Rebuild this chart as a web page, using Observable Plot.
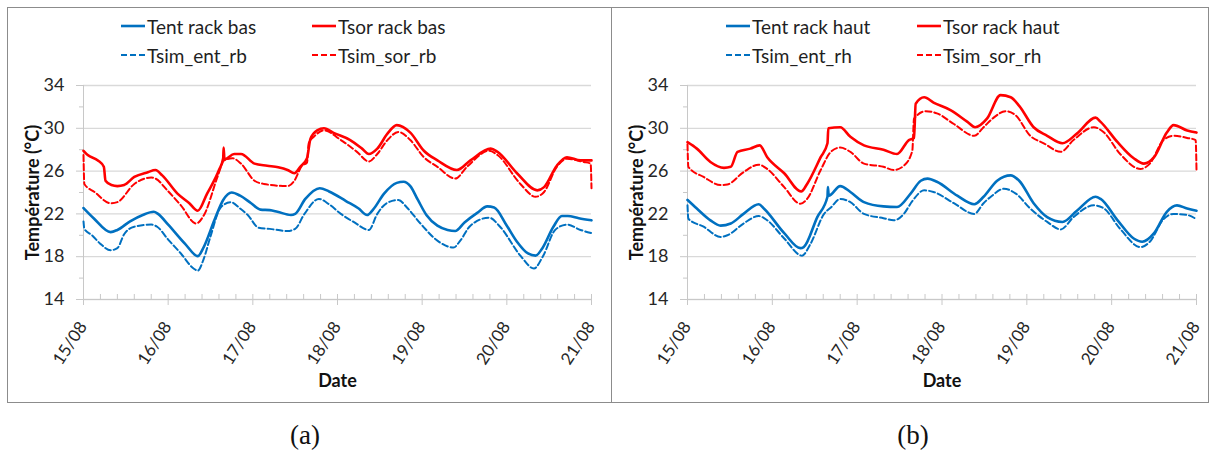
<!DOCTYPE html>
<html>
<head>
<meta charset="utf-8">
<script src="https://cdn.jsdelivr.net/npm/d3@7"></script>
<script src="https://cdn.jsdelivr.net/npm/@observablehq/plot@0.6"></script>
<style>
  html, body { margin: 0; padding: 0; background: #fff; }
  body { position: relative; width: 1212px; height: 450px; overflow: hidden; font-family: Lato, "Liberation Sans", sans-serif; }
  .panel { position: absolute; border: 1px solid #8c8c8c; box-sizing: border-box; }
  .plot { position: absolute; }
  .leg { position: absolute; display: flex; align-items: center; font-size: 19px; color: #1f1f1f; white-space: nowrap; }
  .leg svg { display: block; margin-right: 2px; }
  .cap { position: absolute; width: 100px; text-align: center; font-family: "Liberation Serif", serif; font-size: 27px; line-height: 30px; color: #111; }
</style>
</head>
<body>
<div class="panel" style="left:7px;top:7px;width:605px;height:396px"></div>
<div class="panel" style="left:611px;top:7px;width:598px;height:396px"></div>
<script>
// ---------- shared axis data ----------
const dayTicks = [0, 1, 2, 3, 4, 5, 6];
const dayLabels = ["15/08", "16/08", "17/08", "18/08", "19/08", "20/08", "21/08"];
const minorDayTicks = [0.2,0.4,0.6,0.8,1.2,1.4,1.6,1.8,2.2,2.4,2.6,2.8,3.2,3.4,3.6,3.8,4.2,4.4,4.6,4.8,5.2,5.4,5.6,5.8];
const yTicks = [14, 18, 22, 26, 30, 34];
const yMinorTicks = [16, 20, 24, 28, 32];

// ---------- panel (a): rack bas ----------
const legendA = ["Tent rack bas", "Tsor rack bas", "Tsim_ent_rb", "Tsim_sor_rb"];

const tentRbDays = [0,0.12,0.32,0.4,0.55,0.7,0.83,0.88,1.0,1.2,1.35,1.42,1.55,1.65,1.75,1.85,1.98,2.09,2.2,2.29,2.45,2.5,2.62,2.79,2.9,3.1,3.25,3.35,3.42,3.55,3.7,3.78,3.86,3.95,4.05,4.18,4.3,4.39,4.5,4.65,4.77,4.85,5.0,5.12,5.25,5.34,5.42,5.55,5.65,5.72,5.85,6.0];
const tentRbVals = [22.55,21.6,20.3,20.5,21.3,21.9,22.2,22.0,21.0,19.2,18.05,18.9,21.5,23.3,24.0,23.7,23.0,22.4,22.35,22.2,21.9,22.0,23.4,24.4,24.1,23.2,22.5,21.9,22.4,23.9,24.9,25.0,24.6,23.3,21.9,20.9,20.5,20.4,21.2,22.1,22.7,22.6,20.9,19.4,18.3,18.1,18.8,20.8,21.8,21.8,21.6,21.4];

const tsorRbDays = [0,0.05,0.17,0.24,0.26,0.33,0.4,0.48,0.6,0.76,0.85,0.93,1.11,1.25,1.35,1.46,1.6,1.65,1.655,1.665,1.78,1.86,2.02,2.17,2.3,2.41,2.49,2.56,2.64,2.68,2.76,2.84,2.96,3.15,3.29,3.37,3.47,3.59,3.7,3.86,4.02,4.18,4.41,4.57,4.81,4.89,5.12,5.36,5.44,5.59,5.71,5.87,6.0];
const tsorRbVals = [27.9,27.5,27.0,26.4,25.1,24.7,24.6,24.7,25.45,25.9,26.1,25.6,23.9,23.0,22.3,23.9,26.1,27.2,28.2,27.1,27.6,27.6,26.7,26.5,26.35,26.1,25.8,26.4,27.2,29.0,29.8,30.0,29.55,28.9,28.1,27.6,28.1,29.5,30.3,29.6,27.9,27.0,26.1,27.0,28.1,27.8,25.8,24.2,24.5,26.5,27.3,27.0,27.0];

const simEntRbDays = [0,0.01,0.1,0.2,0.32,0.4,0.48,0.6,0.8,0.87,1.0,1.15,1.3,1.35,1.42,1.5,1.62,1.74,1.85,1.94,2.07,2.2,2.41,2.5,2.61,2.78,2.9,3.04,3.2,3.37,3.47,3.58,3.72,3.82,3.98,4.18,4.37,4.45,4.57,4.79,4.92,5.16,5.32,5.43,5.57,5.71,5.87,6.0];
const simEntRbVals = [21.3,20.6,20.0,19.2,18.6,18.8,20.1,20.8,21.0,20.8,19.6,18.3,16.9,16.7,17.8,19.9,22.6,23.1,22.5,21.9,20.7,20.6,20.4,20.6,22.0,23.4,22.9,22.0,21.2,20.5,22.0,23.0,23.3,22.6,21.1,19.5,18.85,19.5,20.9,21.65,20.8,18.1,16.9,18.1,20.5,21.0,20.5,20.2];

const simSorRbDays = [0,0.01,0.13,0.32,0.4,0.6,0.8,0.85,0.99,1.15,1.33,1.43,1.58,1.66,1.76,1.86,2.02,2.13,2.41,2.49,2.58,2.64,2.66,2.72,2.84,3.04,3.23,3.37,3.47,3.59,3.72,3.86,4.02,4.18,4.39,4.53,4.79,4.89,5.16,5.34,5.44,5.59,5.71,5.91,5.99,6.0];
const simSorRbVals = [27.5,24.8,24.05,23.0,23.1,24.8,25.4,25.3,24.2,22.8,21.1,22.0,25.4,27.0,27.2,26.7,25.1,24.8,24.6,25.1,26.5,26.8,28.6,29.2,29.8,28.9,27.8,26.9,27.6,28.9,29.65,28.9,27.3,26.4,25.3,26.4,27.9,27.5,24.8,23.6,24.05,26.4,27.15,26.85,26.7,24.4];

// ---------- panel (b): rack haut ----------
const legendB = ["Tent rack haut", "Tsor rack haut", "Tsim_ent_rh", "Tsim_sor_rh"];

const tentRhDays = [0,0.11,0.27,0.39,0.51,0.66,0.84,0.9,1.14,1.33,1.37,1.53,1.65,1.655,1.665,1.8,1.92,2.08,2.31,2.47,2.63,2.75,2.83,2.94,3.18,3.38,3.49,3.65,3.81,3.91,4.08,4.24,4.42,4.59,4.81,4.87,5.07,5.26,5.36,5.5,5.65,5.77,5.89,6.0];
const tentRhVals = [23.3,22.5,21.4,20.9,21.1,22.0,22.9,22.5,20.2,18.8,18.9,21.7,23.6,24.5,23.7,24.6,24.05,23.1,22.7,22.65,23.9,25.1,25.3,25.0,23.7,22.9,23.6,25.1,25.6,25.1,23.0,21.7,21.25,22.3,23.6,23.4,21.4,19.7,19.4,20.2,22.2,22.8,22.5,22.3];

const tsorRhDays = [0,0.11,0.27,0.43,0.51,0.59,0.74,0.85,0.94,1.14,1.34,1.41,1.57,1.65,1.66,1.8,1.92,2.08,2.31,2.47,2.61,2.67,2.69,2.79,2.9,3.1,3.3,3.39,3.53,3.69,3.81,3.91,4.08,4.24,4.42,4.59,4.81,4.87,5.07,5.26,5.38,5.5,5.65,5.73,5.89,6.0];
const tsorRhVals = [28.7,28.1,26.85,26.3,26.4,27.8,28.1,28.4,27.3,25.8,24.1,24.8,27.3,28.6,30.0,30.1,29.2,28.4,28.0,27.6,28.9,29.1,32.3,32.9,32.4,31.7,30.6,30.1,30.9,33.1,32.9,32.1,30.1,29.3,28.6,29.5,31.0,30.6,28.7,27.2,26.7,27.3,29.6,30.3,29.8,29.6];

const simEntRhDays = [0,0.01,0.19,0.39,0.47,0.66,0.84,0.94,1.14,1.35,1.45,1.61,1.69,1.8,1.92,2.08,2.31,2.43,2.55,2.65,2.79,2.9,3.14,3.38,3.49,3.59,3.73,3.87,4.04,4.24,4.4,4.55,4.79,4.91,5.1,5.34,5.45,5.61,5.73,5.89,6.0];
const simEntRhVals = [22.8,21.55,20.8,19.85,20.0,21.1,21.8,21.4,19.7,18.1,19.2,22.0,22.6,23.4,23.1,22.0,21.6,21.4,22.0,23.2,24.2,24.05,23.0,22.0,23.0,23.7,24.35,23.9,22.5,21.25,20.55,21.7,22.8,22.5,20.6,18.9,19.4,21.5,22.0,21.9,21.5];

const simSorRhDays = [0,0.01,0.19,0.39,0.47,0.66,0.84,0.94,1.14,1.33,1.41,1.57,1.69,1.8,1.92,2.08,2.31,2.43,2.55,2.65,2.67,2.81,2.94,3.14,3.38,3.49,3.61,3.75,3.87,4.04,4.2,4.4,4.55,4.79,4.91,5.1,5.34,5.45,5.61,5.73,5.89,5.99,6.0];
const simSorRhVals = [28.5,26.4,25.45,24.7,24.75,25.9,26.6,26.2,24.5,22.95,23.4,26.1,27.8,28.2,27.8,26.7,26.4,26.1,26.5,27.9,30.9,31.6,31.4,30.4,29.3,30.1,31.0,31.6,31.2,29.3,28.6,27.8,28.9,30.1,29.6,27.6,26.2,26.7,28.9,29.3,29.1,28.9,26.1];

// ---------- styling ----------
const BLUE = "#0070C0";
const RED = "#FF0000";
const DASH = "6,3";

function rows(days, vals) { return days.map((d, i) => ({ d, v: vals[i] })); }

function makePlot(series, opts) {
  const lineMarks = series.map(s => Plot.line(rows(s.days, s.vals), {
    x: "d", y: "v", stroke: s.color, strokeWidth: s.dashed ? 2 : 2.6,
    strokeDasharray: s.dashed ? DASH : null, curve: "monotone-x"
  }));
  return Plot.plot({
    width: opts.width, height: 330,
    marginLeft: 75, marginRight: opts.marginRight, marginTop: 20, marginBottom: 96,
    x: { domain: [0, 6] },
    y: { domain: [14, 34] },
    style: { fontFamily: "Lato, 'Liberation Sans', sans-serif", fontSize: "17px", color: "#262626", background: "transparent", overflow: "visible" },
    marks: [
      Plot.gridY(yTicks, { stroke: "#d9d9d9", strokeOpacity: 1, strokeWidth: 1.3 }),
      Plot.ruleX([0], { stroke: "#c8c8c8", strokeWidth: 1 }),
      Plot.ruleY([14], { stroke: "#c8c8c8", strokeWidth: 1.2 }),
      Plot.axisY(yTicks, { tickSize: 7, tickPadding: 12, stroke: "#c8c8c8", label: null, fontSize: 18 }),
      Plot.axisY(yMinorTicks, { tickSize: 4, tickFormat: () => "", stroke: "#c8c8c8", label: null }),
      Plot.axisX(dayTicks, { tickSize: 6, tickFormat: () => "", stroke: "#c8c8c8", label: null }),
      Plot.ruleX(dayTicks.concat(minorDayTicks), { x: d => d, y1: 14, y2: 14, insetTop: -5, stroke: "#c8c8c8" }),
      Plot.text(dayTicks, { x: d => d, frameAnchor: "bottom", text: (d, i) => dayLabels[i], rotate: -57, textAnchor: "end", dy: 27, dx: 4, fontSize: 17 }),
      Plot.text(["Température (°C)"], { frameAnchor: "left", textAnchor: "middle", dx: -50, rotate: -90, fontWeight: "bold", fontSize: 18, fill: "#111" }),
      Plot.text(["Date"], { frameAnchor: "bottom", textAnchor: "middle", lineAnchor: "middle", dy: 82, fontWeight: "bold", fontSize: 18, fill: "#111" }),
      ...lineMarks
    ]
  });
}

function legendItem(x, y, color, dashed, label) {
  const div = document.createElement("div");
  div.className = "leg";
  div.style.left = x + "px";
  div.style.top = (y - 12) + "px";
  div.style.height = "24px";
  div.innerHTML = `<svg width="24" height="6"><line x1="0" y1="3" x2="24" y2="3" stroke="${color}" stroke-width="${dashed ? 2 : 2.6}" ${dashed ? `stroke-dasharray="${DASH}"` : ""}/></svg><span>${label}</span>`;
  document.body.appendChild(div);
}

function place(el, left, top) {
  el.classList.add("plot");
  el.style.left = left + "px";
  el.style.top = top + "px";
  document.body.appendChild(el);
}

const plotA = makePlot([
  { days: tentRbDays, vals: tentRbVals, color: BLUE, dashed: false },
  { days: tsorRbDays, vals: tsorRbVals, color: RED, dashed: false },
  { days: simEntRbDays, vals: simEntRbVals, color: BLUE, dashed: true },
  { days: simSorRbDays, vals: simSorRbVals, color: RED, dashed: true }
], { width: 600, marginRight: 17 });
place(plotA, 8, 65);

const plotB = makePlot([
  { days: tentRhDays, vals: tentRhVals, color: BLUE, dashed: false },
  { days: tsorRhDays, vals: tsorRhVals, color: RED, dashed: false },
  { days: simEntRhDays, vals: simEntRhVals, color: BLUE, dashed: true },
  { days: simSorRhDays, vals: simSorRhVals, color: RED, dashed: true }
], { width: 594, marginRight: 10 });
place(plotB, 612, 65);

legendItem(121, 26, BLUE, false, legendA[0]);
legendItem(312, 26, RED, false, legendA[1]);
legendItem(121, 55, BLUE, true, legendA[2]);
legendItem(312, 55, RED, true, legendA[3]);
legendItem(726, 26, BLUE, false, legendB[0]);
legendItem(917, 26, RED, false, legendB[1]);
legendItem(726, 55, BLUE, true, legendB[2]);
legendItem(917, 55, RED, true, legendB[3]);

const capA = document.createElement("div");
capA.className = "cap"; capA.textContent = "(a)";
capA.style.left = "255px"; capA.style.top = "420px";
document.body.appendChild(capA);
const capB = document.createElement("div");
capB.className = "cap"; capB.textContent = "(b)";
capB.style.left = "863px"; capB.style.top = "420px";
document.body.appendChild(capB);
</script>
</body>
</html>
